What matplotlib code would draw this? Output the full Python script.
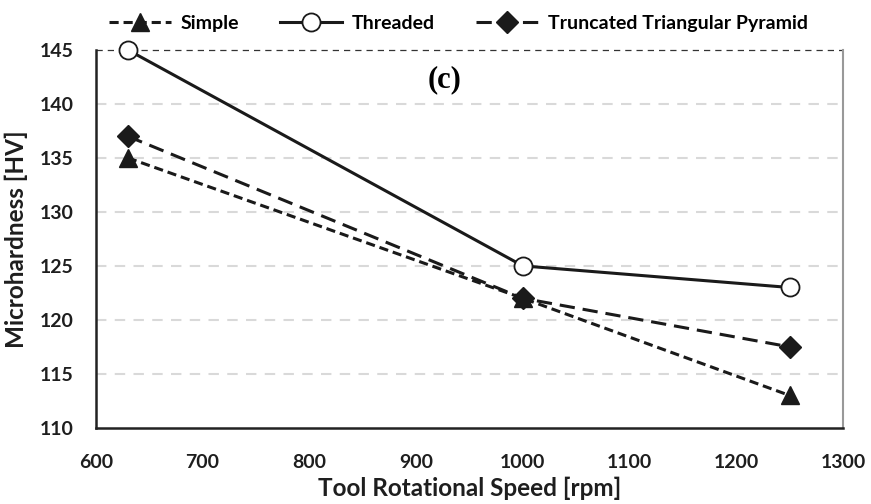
import matplotlib
matplotlib.use("Agg")
import matplotlib.pyplot as plt
from matplotlib.lines import Line2D

speed = [630, 1000, 1250]
simple = [135, 122, 113]
threaded = [145, 125, 123]
pyramid = [137, 122, 117.5]

x_ticks = [600, 700, 800, 900, 1000, 1100, 1200, 1300]
y_ticks = [110, 115, 120, 125, 130, 135, 140, 145]
labels = ['Simple', 'Threaded', 'Truncated Triangular Pyramid']

plt.rcParams['font.family'] = ['Lato', 'DejaVu Sans']

INK = '#1a1a1a'
simple_style = dict(color=INK, lw=2.2, ls=(0, (3, 1.6)), marker='^', ms=13,
                    mfc=INK, mec=INK)
threaded_style = dict(color=INK, lw=2.2, ls='-', marker='o', ms=13,
                      mfc='white', mec=INK, mew=1.3)
pyramid_style = dict(color=INK, lw=2.2, ls=(0, (5, 2.6)), marker='D', ms=11,
                     mfc=INK, mec=INK)

fig = plt.figure(figsize=(8.71, 5.04), dpi=100)
ax = fig.add_axes([0.110, 0.151, 0.858, 0.750])

ax.set_xlim(600, 1300)
ax.set_ylim(110, 145)
ax.set_xticks(x_ticks)
ax.set_yticks(y_ticks)
ax.tick_params(axis='x', length=0, pad=19, labelsize=14)
ax.tick_params(axis='y', length=0, pad=16, labelsize=14)
for lab in ax.get_xticklabels() + ax.get_yticklabels():
    lab.set_fontweight('bold')
    lab.set_color('#1e1e1e')

for y in y_ticks[1:-1]:
    ax.axhline(y, color='#d9d9d9', lw=1.5, ls=(0, (5, 4)), zorder=0)

for side in ['left', 'bottom']:
    ax.spines[side].set_color('#222222')
    ax.spines[side].set_linewidth(1.8)
ax.spines['right'].set_color('#999999')
ax.spines['right'].set_linewidth(1.5)
ax.spines['top'].set_visible(False)
ax.axhline(145, color='#333333', lw=0.9, ls=(0, (5, 4)), zorder=1, clip_on=False)

ax.plot(speed, simple, zorder=3, clip_on=False, **simple_style)
ax.plot(speed, threaded, zorder=3, clip_on=False, **threaded_style)
ax.plot(speed, pyramid, zorder=3, clip_on=False, **pyramid_style)

ax.set_xlabel('Tool Rotational Speed [rpm]', fontsize=17.5, fontweight='bold',
              color='#1e1e1e', labelpad=4)
ax.set_ylabel('Microhardness [HV]', fontsize=17.5, fontweight='bold',
              color='#1e1e1e', labelpad=8)

ax.text(0.467, 0.922, '(c)', transform=ax.transAxes, ha='center', va='center',
        fontsize=22, fontweight='bold', family=['Liberation Serif', 'DejaVu Serif'])

handles = [Line2D([], [], **simple_style),
           Line2D([], [], **threaded_style),
           Line2D([], [], **pyramid_style)]
fig.legend(handles, labels, loc='center', bbox_to_anchor=(0.526, 0.954),
           ncol=3, frameon=False, handlelength=3.2,
           columnspacing=2.1, handletextpad=0.5,
           prop={'weight': 'bold', 'size': 14})

fig.savefig('out.png', dpi=100)
